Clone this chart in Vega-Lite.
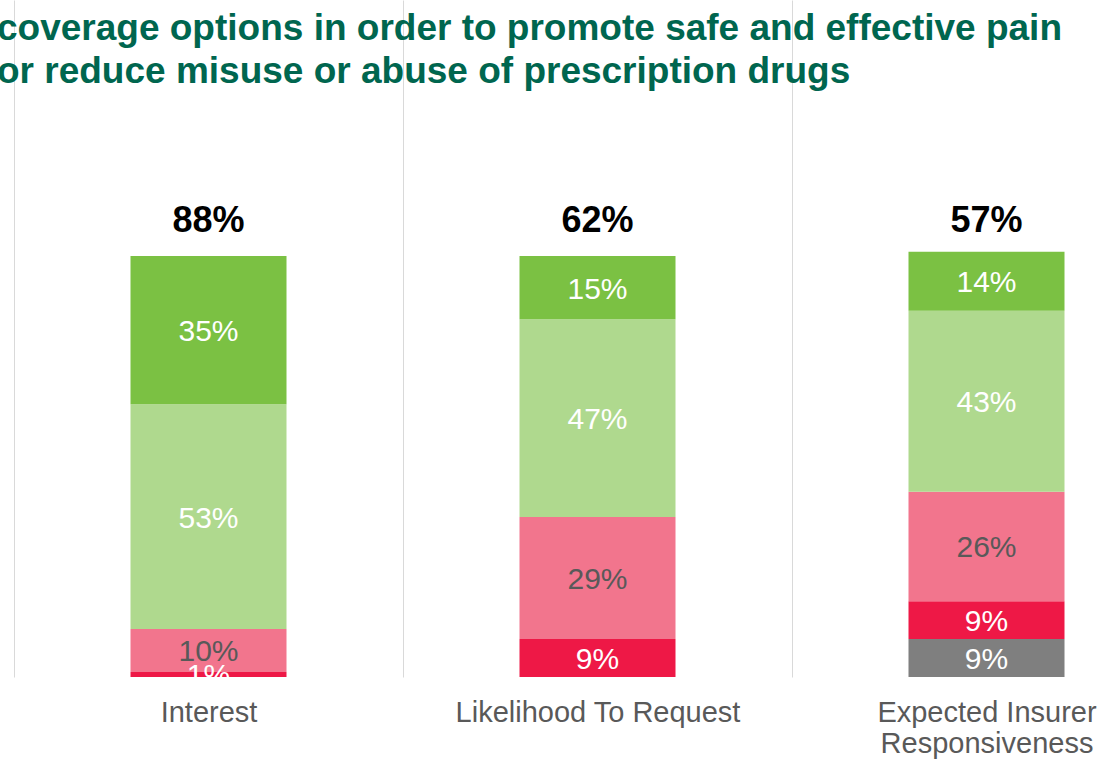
{
  "$schema": "https://vega.github.io/schema/vega-lite/v6.json",
  "width": 1115,
  "height": 677,
  "autosize": {"type": "none"},
  "padding": {"top": 0, "left": 0, "right": 0, "bottom": 83},
  "background": "white",
  "title": {
    "text": ["coverage options in order to promote safe and effective pain", "or reduce misuse or abuse of prescription drugs"],
    "anchor": "start",
    "frame": "group",
    "baseline": "alphabetic",
    "offset": -120,
    "dx": -3,
    "lineHeight": 43,
    "font": "Liberation Sans",
    "fontSize": 37,
    "fontWeight": "bold",
    "color": "#00664F",
    "limit": 1200
  },
  "datasets": {
    "segments": [
      {"question": "Interest", "category": "Not at all", "order": 1, "value": 0.012},
      {"question": "Interest", "category": "Not very", "order": 2, "value": 0.102},
      {"question": "Interest", "category": "Somewhat", "order": 3, "value": 0.534},
      {"question": "Interest", "category": "Very", "order": 4, "value": 0.352},
      {"question": "Likelihood To Request", "category": "Not at all", "order": 1, "value": 0.09},
      {"question": "Likelihood To Request", "category": "Not very", "order": 2, "value": 0.29},
      {"question": "Likelihood To Request", "category": "Somewhat", "order": 3, "value": 0.47},
      {"question": "Likelihood To Request", "category": "Very", "order": 4, "value": 0.15},
      {"question": "Expected Insurer Responsiveness", "category": "Unsure", "order": 0, "value": 0.09},
      {"question": "Expected Insurer Responsiveness", "category": "Not at all", "order": 1, "value": 0.09},
      {"question": "Expected Insurer Responsiveness", "category": "Not very", "order": 2, "value": 0.26},
      {"question": "Expected Insurer Responsiveness", "category": "Somewhat", "order": 3, "value": 0.43},
      {"question": "Expected Insurer Responsiveness", "category": "Very", "order": 4, "value": 0.14}
    ],
    "totals": [
      {"question": "Interest", "total": 0.88},
      {"question": "Likelihood To Request", "total": 0.62},
      {"question": "Expected Insurer Responsiveness", "total": 0.57}
    ]
  },
  "encoding": {
    "x": {
      "field": "question",
      "type": "nominal",
      "sort": ["Interest", "Likelihood To Request", "Expected Insurer Responsiveness"],
      "scale": {"type": "band", "domain": ["Interest", "Likelihood To Request", "Expected Insurer Responsiveness"], "range": [14, 1181], "paddingInner": 0, "paddingOuter": 0},
      "axis": {
        "title": null,
        "domain": false,
        "ticks": false,
        "tickSize": 0,
        "tickBand": "extent",
        "grid": true,
        "gridColor": "#D9D9D9",
        "gridWidth": 1,
        "labelAngle": 0,
        "labelFont": "Liberation Sans",
        "labelFontSize": 29,
        "labelColor": "#595959",
        "labelPadding": 21,
        "labelBaseline": "top",
        "labelLineHeight": 31,
        "labelLimit": 500,
        "labelOverlap": false,
        "labelExpr": "datum.label == 'Expected Insurer Responsiveness' ? ['Expected Insurer', 'Responsiveness'] : datum.label"
      }
    }
  },
  "layer": [
    {
      "data": {"name": "segments"},
      "transform": [
        {"stack": "value", "groupby": ["question"], "sort": [{"field": "order", "order": "ascending"}], "as": ["y0", "y1"]}
      ],
      "mark": {"type": "bar", "width": 156},
      "encoding": {
        "y": {"field": "y0", "type": "quantitative", "scale": {"domain": [0, 1.608], "nice": false, "zero": true}, "axis": null},
        "y2": {"field": "y1"},
        "color": {
          "field": "category",
          "type": "nominal",
          "scale": {"domain": ["Unsure", "Not at all", "Not very", "Somewhat", "Very"], "range": ["#7F7F7F", "#EE1846", "#F2758D", "#AFD98E", "#7BC143"]},
          "legend": null
        }
      }
    },
    {
      "data": {"name": "segments"},
      "transform": [
        {"stack": "value", "groupby": ["question"], "sort": [{"field": "order", "order": "ascending"}], "as": ["y0", "y1"]},
        {"calculate": "(datum.y0 + datum.y1) / 2", "as": "ymid"}
      ],
      "mark": {"type": "text", "font": "Liberation Sans", "fontSize": 30, "baseline": "middle", "align": "center", "dy": 2},
      "encoding": {
        "y": {"field": "ymid", "type": "quantitative"},
        "text": {"field": "value", "type": "quantitative", "format": ".0%"},
        "color": {"condition": {"test": "datum.category === 'Not very'", "value": "#595959"}, "value": "#FFFFFF"}
      }
    },
    {
      "data": {"name": "totals"},
      "mark": {"type": "text", "font": "Liberation Sans", "fontSize": 36, "fontWeight": "bold", "baseline": "middle", "align": "center", "color": "#000000"},
      "encoding": {
        "y": {"datum": 1.083, "type": "quantitative"},
        "text": {"field": "total", "type": "quantitative", "format": ".0%"}
      }
    }
  ],
  "config": {"view": {"stroke": null}}
}
